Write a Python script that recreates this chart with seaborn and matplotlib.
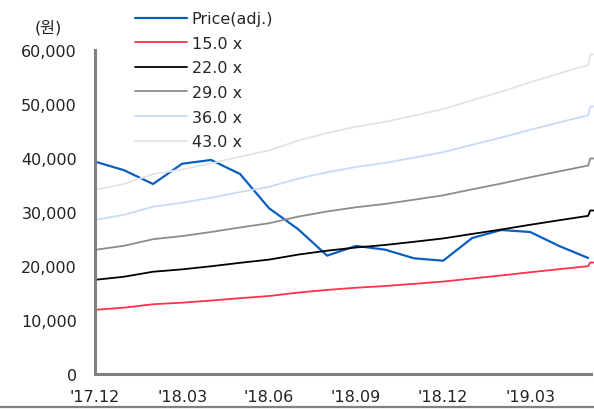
import matplotlib
matplotlib.use('Agg')
import matplotlib.pyplot as plt
from matplotlib.lines import Line2D
import seaborn as sns

# monthly points, '17.12 = 0
months = list(range(18))
tick_pos = [0, 3, 6, 9, 12, 15]
tick_labels = ["'17.12", "'18.03", "'18.06", "'18.09", "'18.12", "'19.03"]

price = [39300, 37700, 35150, 38900, 39600, 37000, 30660, 26800, 21900,
         23700, 23000, 21400, 20960, 25160, 26640, 26270, 23680, 21460]

# EPS behind the PER band (last step happens right at the end)
band_x = list(range(18)) + [17.07, 17.3]
eps = [792, 818, 860, 880, 906, 935, 962, 1004, 1037, 1064, 1085, 1112,
       1140, 1178, 1215, 1255, 1293, 1330, 1375, 1375]
multiples = [15.0, 22.0, 29.0, 36.0, 43.0]
band_colors = ['#ff3348', '#000000', '#8c8c8c', '#c4dcf8', '#e3e3e3']

sns.set_style('white')
plt.rcParams['font.family'] = ['DejaVu Sans', 'Noto Sans CJK KR']

fig = plt.figure(figsize=(5.94, 4.10), dpi=100)
ax = fig.add_axes([0.160, 0.0854, 0.84, 0.7909])

sns.lineplot(x=months, y=price, color='#0b5fc1', linewidth=1.6,
             label='Price(adj.)', ax=ax)
for m, c in zip(multiples, band_colors):
    sns.lineplot(x=band_x, y=[e * m for e in eps], color=c, linewidth=1.3,
                 label=f'{m:.1f} x', ax=ax)

ax.set_xlim(0, 17.2)
ax.set_ylim(0, 60000)
ax.set_xticks(tick_pos)
ax.set_xticklabels(tick_labels)
ax.set_yticks(range(0, 60001, 10000))
ax.set_yticklabels([f'{v:,}' for v in range(0, 60001, 10000)])
ax.set_xlabel('')
ax.set_ylabel('')

for s in ['top', 'right']:
    ax.spines[s].set_visible(False)
for s in ['left', 'bottom']:
    ax.spines[s].set_color('#808080')
    ax.spines[s].set_linewidth(2.2)
ax.spines['bottom'].set_bounds(0, 17.1)

ax.tick_params(axis='y', direction='out', length=5, width=1.2, color='#808080',
               pad=8, labelsize=11.5, labelcolor='#222222')
ax.tick_params(axis='x', direction='out', length=4, width=1.0, color='#909090',
               pad=7, labelsize=11.5, labelcolor='#222222')

ax.legend(loc='upper left', bbox_to_anchor=(0.227, 0.970),
          bbox_transform=fig.transFigure, frameon=False, fontsize=11.5,
          handlelength=3.25, handletextpad=0.3, labelspacing=0.6,
          borderpad=0, borderaxespad=0)

fig.text(0.081, 0.932, '(원)', fontsize=11.5, color='#222222',
         ha='center', va='center')
fig.add_artist(Line2D([0, 1], [0.005, 0.005], color='#808080', linewidth=1.6,
                      transform=fig.transFigure))

fig.savefig('out.png', dpi=100)
